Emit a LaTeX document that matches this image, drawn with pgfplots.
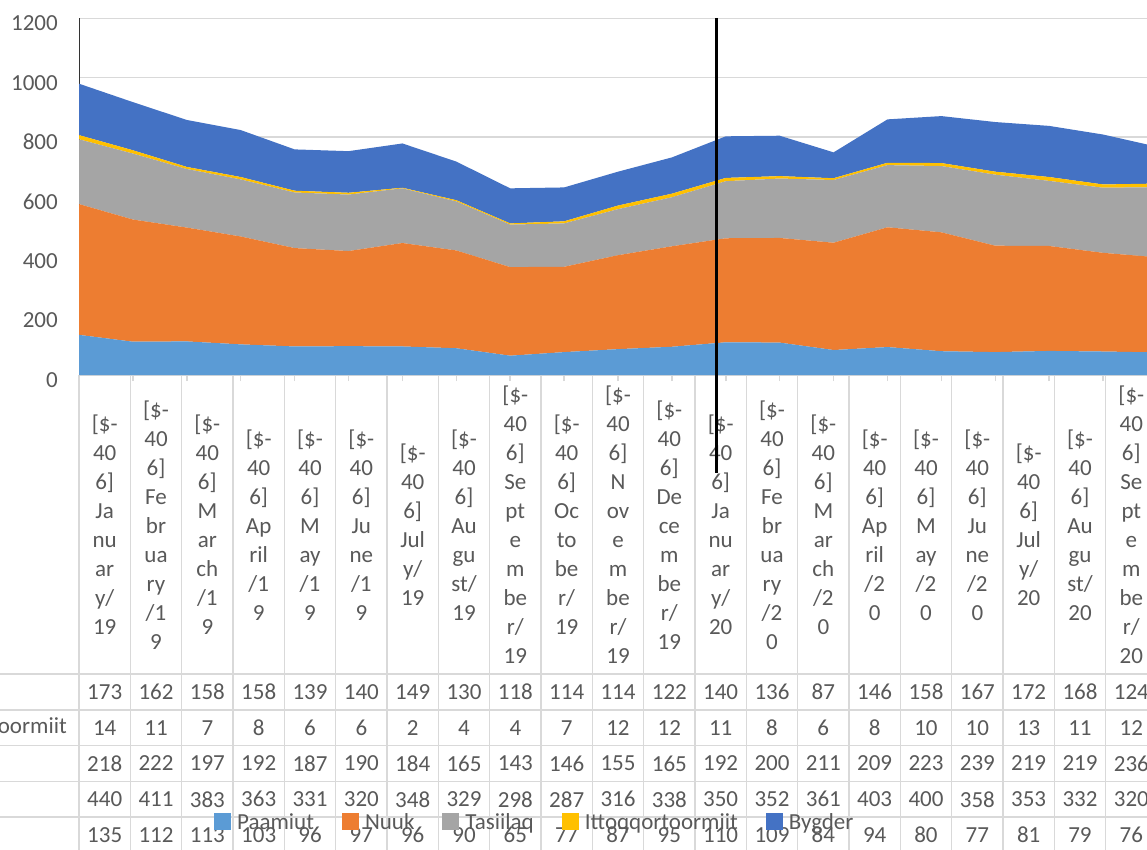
\documentclass[border=0pt]{standalone}
\usepackage{pgfplots}
\pgfplotsset{compat=1.18}
\usepackage{pgfplotstable}
\usepackage{fontspec}
\setmainfont{Carlito}

\definecolor{paamiut}{HTML}{5B9BD5}
\definecolor{nuuk}{HTML}{ED7D31}
\definecolor{tasiilaq}{HTML}{A5A5A5}
\definecolor{itto}{HTML}{FFC000}
\definecolor{bygder}{HTML}{4472C4}
\definecolor{txt}{HTML}{595959}
\definecolor{gridgray}{HTML}{D9D9D9}

\newcommand\tfont{\fontsize{23}{29}\selectfont}

\pgfplotsset{/pgf/number format/assume math mode=true,
  /pgf/number format/set thousands separator={}}

% one row per month, Jan/19 ... Sep/20
\pgfplotstableread{
idx Paamiut Nuuk Tasiilaq Itto Bygder
0   135 440 218 14 173
1   112 411 222 11 162
2   113 383 197  7 158
3   103 363 192  8 158
4    96 331 187  6 139
5    97 320 190  6 140
6    96 348 184  2 149
7    90 329 165  4 130
8    65 298 143  4 118
9    77 287 146  7 114
10   87 316 155 12 114
11   95 338 165 12 122
12  110 350 192 11 140
13  109 352 200  8 136
14   84 361 211  6  87
15   94 403 209  8 146
16   80 400 223 10 158
17   77 358 239 10 167
18   81 353 219 13 172
19   79 332 219 11 168
20   76 320 236 12 124
}\data

\begin{document}
\begin{tikzpicture}
\path[use as bounding box] (0pt,0pt) rectangle (1147pt,849pt);
\clip (0pt,0pt) rectangle (1147pt,849pt);

% data table under the chart
\begin{axis}[
  scale only axis, width=1078pt, height=478pt,
  at={(79pt,-4pt)}, anchor=south west,
  xmin=-0.5, xmax=20.5, ymin=0, ymax=13.35,
  axis line style={draw=none},
  xtick={-0.5,0.5,...,20.5}, xticklabels={},
  ytick={1,2,3,4,5}, yticklabels={},
  major tick length=0pt,
  xmajorgrids, ymajorgrids,
  grid style={gridgray, line width=1.5pt},
  every node near coord/.append style={font=\tfont, text=txt, anchor=center, inner sep=0pt},
]
\addplot[draw=none, mark=none, nodes near coords, point meta=explicit] table[x=idx, y expr=4.5, meta=Bygder] {\data};
\addplot[draw=none, mark=none, nodes near coords, point meta=explicit] table[x=idx, y expr=3.5, meta=Itto] {\data};
\addplot[draw=none, mark=none, nodes near coords, point meta=explicit] table[x=idx, y expr=2.5, meta=Tasiilaq] {\data};
\addplot[draw=none, mark=none, nodes near coords, point meta=explicit] table[x=idx, y expr=1.5, meta=Nuuk] {\data};
\addplot[draw=none, mark=none, nodes near coords, point meta=explicit] table[x=idx, y expr=0.5, meta=Paamiut] {\data};
\end{axis}

% stacked areas
\begin{axis}[
  scale only axis, width=1078pt, height=356.7pt,
  at={(79pt,474pt)}, anchor=south west,
  xmin=0, xmax=20, ymin=0, ymax=1200,
  ytick={0,200,...,1200},
  xtick={0,...,20}, xticklabels={},
  axis x line*=bottom, axis y line*=left,
  x axis line style={draw=gridgray, line width=1.5pt, -},
  y axis line style={draw=black!80, line width=1pt, -},
  ymajorgrids, grid style={gridgray, line width=1.5pt},
  xtick style={draw=gridgray, line width=1.5pt},
  ytick style={draw=none},
  tick align=outside, major tick length=6pt,
  yticklabel style={font=\tfont, text=txt, inner sep=0pt, xshift=-15pt, yshift=-5pt},
  stack plots=y,
  legend columns=-1,
  legend image code/.code={\fill[#1] (0pt,-8.5pt) rectangle (17pt,8.5pt);},
  legend style={at={(axis description cs:0.1252,-1.253)}, anchor=west,
    draw=none, fill=none, inner sep=0pt, font=\tfont, text=txt,
    nodes={inner sep=0pt, anchor=west},
    /tikz/every odd column/.append style={column sep=6pt},
    /tikz/every even column/.append style={column sep=28pt}},
]
\addplot[fill=paamiut, draw=none] table[x=idx, y=Paamiut] {\data} \closedcycle;
\addplot[fill=nuuk, draw=none] table[x=idx, y=Nuuk] {\data} \closedcycle;
\addplot[fill=tasiilaq, draw=none] table[x=idx, y=Tasiilaq] {\data} \closedcycle;
\addplot[fill=itto, draw=none] table[x=idx, y=Itto] {\data} \closedcycle;
\addplot[fill=bygder, draw=none] table[x=idx, y=Bygder] {\data} \closedcycle;
\legend{Paamiut,Nuuk,Tasiilaq,Ittoqqortoormiit,Bygder}
\end{axis}

% category names, wrapped as in the narrow table cells
\foreach [count=\i from 0] \lab in {
  {[\$-\\40\\6]\\Ja\\nu\\ar\\y/\\19},
  {[\$-\\40\\6]\\Fe\\br\\ua\\ry\\/1\\9},
  {[\$-\\40\\6]\\M\\ar\\ch\\/1\\9},
  {[\$-\\40\\6]\\Ap\\ril\\/1\\9},
  {[\$-\\40\\6]\\M\\ay\\/1\\9},
  {[\$-\\40\\6]\\Ju\\ne\\/1\\9},
  {[\$-\\40\\6]\\Jul\\y/\\19},
  {[\$-\\40\\6]\\Au\\gu\\st/\\19},
  {[\$-\\40\\6]\\Se\\pt\\e\\m\\be\\r/\\19},
  {[\$-\\40\\6]\\Oc\\to\\be\\r/\\19},
  {[\$-\\40\\6]\\N\\ov\\e\\m\\be\\r/\\19},
  {[\$-\\40\\6]\\De\\ce\\m\\be\\r/\\19},
  {[\$-\\40\\6]\\Ja\\nu\\ar\\y/\\20},
  {[\$-\\40\\6]\\Fe\\br\\ua\\ry\\/2\\0},
  {[\$-\\40\\6]\\M\\ar\\ch\\/2\\0},
  {[\$-\\40\\6]\\Ap\\ril\\/2\\0},
  {[\$-\\40\\6]\\M\\ay\\/2\\0},
  {[\$-\\40\\6]\\Ju\\ne\\/2\\0},
  {[\$-\\40\\6]\\Jul\\y/\\20},
  {[\$-\\40\\6]\\Au\\gu\\st/\\20},
  {[\$-\\40\\6]\\Se\\pt\\e\\m\\be\\r/\\20}} {
  \node[align=center, font=\tfont, text=txt, inner sep=0pt]
    at ({79pt+51.333pt*(\i+0.5)}, 324pt) {\lab};
}

% row borders reaching into the row-name column
\foreach \y in {175, 139.2, 103.4, 67.6, 31.8}
  \draw[gridgray, line width=1.5pt] (0pt,\y pt) -- (80pt,\y pt);
\node[anchor=east, font=\tfont, text=txt, inner sep=0pt] at (67pt,121.3pt) {Ittoqqortoormiit};

% hand-drawn marker line
\draw[black, line width=3pt] (716pt,831pt) -- (716pt,376pt);
\end{tikzpicture}
\end{document}
